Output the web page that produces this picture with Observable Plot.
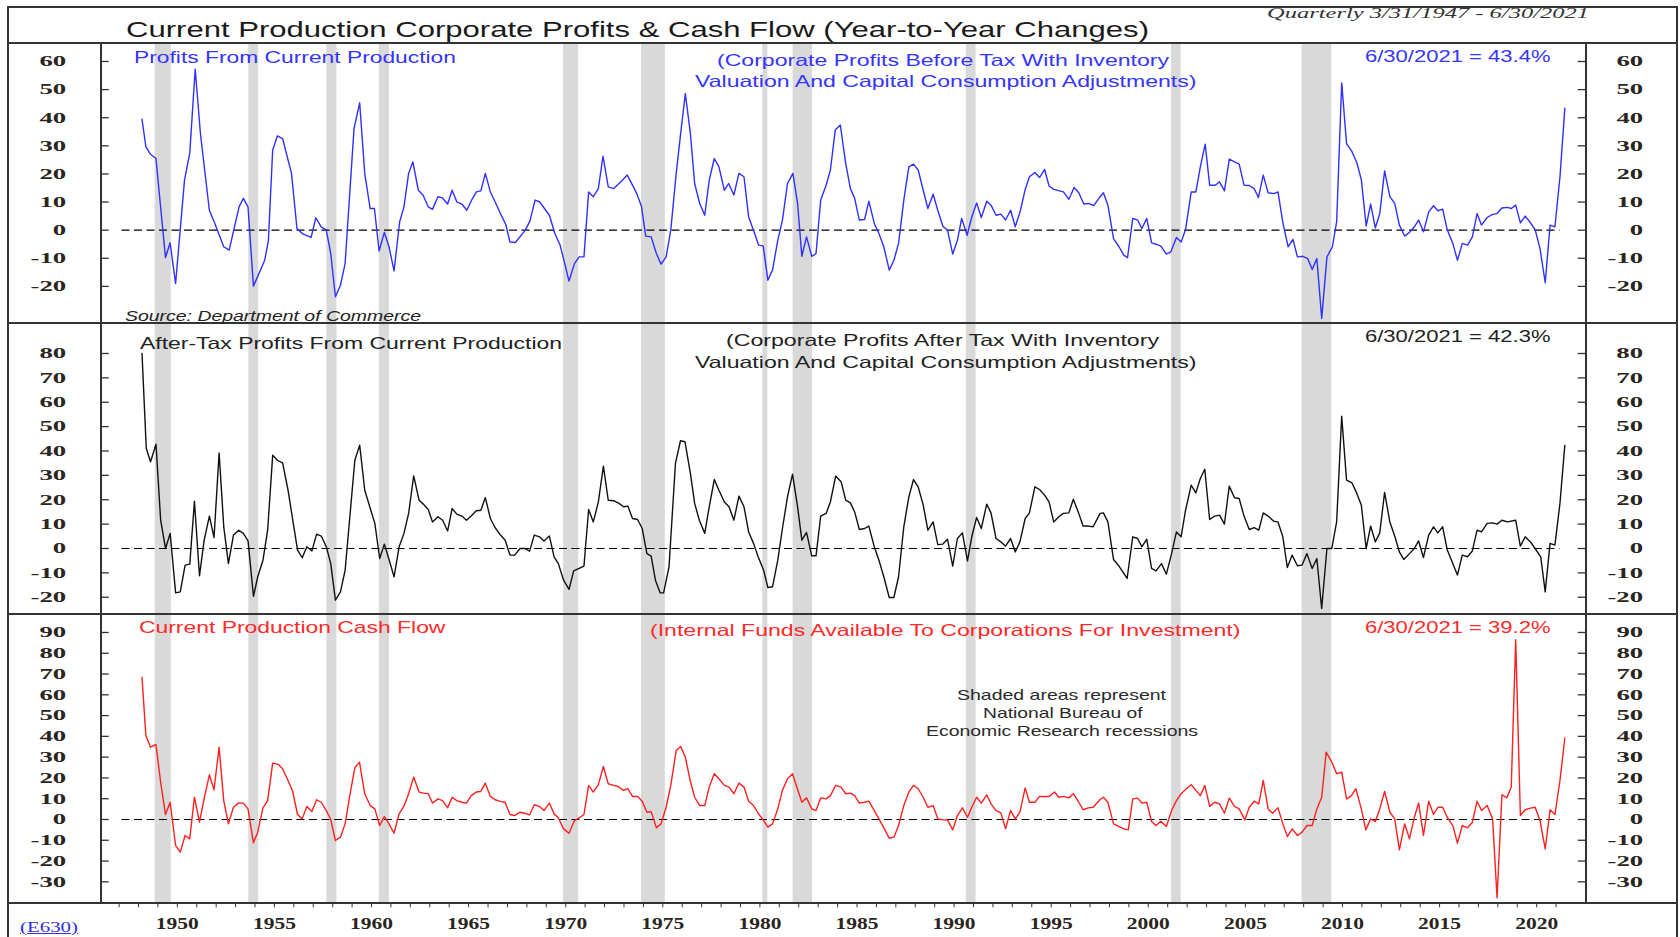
<!DOCTYPE html>
<html><head><meta charset="utf-8">
<script src="https://cdn.jsdelivr.net/npm/d3@7"></script>
<script src="https://cdn.jsdelivr.net/npm/@observablehq/plot@0.6"></script>
<style>
html,body{margin:0;padding:0;background:#fff;width:1680px;height:937px;overflow:hidden;}
#root{position:relative;width:1680px;height:937px;}
.lbl{position:absolute;white-space:nowrap;transform-origin:0 0;line-height:1;}
.ln{position:absolute;background:#333;z-index:5;}
svg{position:absolute;left:0;}
</style></head><body><div id="root"></div>
<script>
// ---------------- DATA ----------------
const preTaxYears = [1948.18,1948.38,1948.62,1948.90,1949.39,1949.63,1949.91,1950.37,1950.64,1950.92,1951.19,1951.65,1951.93,1952.39,1952.67,1953.18,1953.40,1953.64,1953.92,1954.50,1954.69,1954.91,1955.15,1955.42,1955.88,1956.16,1956.43,1956.89,1957.13,1957.41,1957.67,1957.90,1958.14,1958.40,1958.64,1959.10,1959.39,1959.65,1959.93,1960.15,1960.39,1960.66,1960.90,1961.16,1961.45,1961.67,1961.91,1962.13,1962.41,1962.65,1962.92,1963.14,1963.42,1963.64,1963.92,1964.15,1964.39,1964.65,1964.91,1965.17,1965.40,1965.63,1965.86,1966.12,1966.36,1966.64,1966.91,1967.13,1967.41,1967.92,1968.16,1968.42,1968.65,1969.16,1969.44,1969.71,1969.95,1970.17,1970.45,1970.69,1970.94,1971.18,1971.42,1971.68,1971.92,1972.19,1972.47,1972.84,1973.17,1973.44,1973.66,1973.90,1974.12,1974.40,1974.67,1974.91,1975.17,1975.41,1975.69,1975.91,1976.16,1976.42,1976.64,1976.90,1977.16,1977.39,1977.65,1977.89,1978.17,1978.39,1978.66,1978.92,1979.18,1979.42,1979.67,1979.93,1980.17,1980.41,1980.65,1980.92,1981.16,1981.42,1981.70,1981.94,1982.16,1982.40,1982.67,1982.89,1983.13,1983.41,1983.63,1983.88,1984.14,1984.42,1984.66,1984.88,1985.12,1985.39,1985.61,1985.89,1986.13,1986.38,1986.66,1986.90,1987.14,1987.41,1987.67,1987.91,1988.15,1988.41,1988.65,1988.92,1989.16,1989.42,1989.66,1989.93,1990.17,1990.39,1990.67,1990.91,1991.16,1991.40,1991.68,1991.90,1992.16,1992.41,1992.65,1992.91,1993.15,1993.42,1993.66,1993.88,1994.16,1994.40,1994.66,1994.89,1995.13,1995.63,1995.91,1996.18,1996.42,1996.68,1996.92,1997.19,1997.52,1997.69,1997.92,1998.21,1998.49,1998.74,1998.93,1999.20,1999.45,1999.67,1999.92,2000.17,2000.40,2000.65,2000.93,2001.16,2001.45,2001.69,2001.92,2002.21,2002.45,2002.68,2002.93,2003.16,2003.45,2003.67,2003.92,2004.17,2004.44,2004.68,2004.93,2005.20,2005.45,2005.67,2005.92,2006.17,2006.46,2006.68,2006.93,2007.20,2007.45,2007.68,2007.96,2008.21,2008.44,2008.68,2008.93,2009.20,2009.48,2009.70,2009.96,2010.21,2010.49,2010.74,2010.97,2011.22,2011.45,2011.69,2011.92,2012.17,2012.44,2012.69,2012.93,2013.20,2013.45,2013.70,2013.92,2014.17,2014.44,2014.69,2014.91,2015.16,2015.39,2015.68,2015.92,2016.17,2016.44,2016.69,2016.93,2017.16,2017.45,2017.73,2017.96,2018.21,2018.50,2018.69,2018.92,2019.16,2019.41,2019.64,2019.92,2020.17,2020.44,2020.69,2020.94,2021.20,2021.45];
const preTaxValues = [39.5,29.7,27.0,25.5,-9.7,-4.5,-19.0,17.8,27.3,57.3,34.4,7.1,2.4,-5.9,-7.1,8.3,11.3,8.3,-19.9,-10.7,-3.6,28.5,33.5,32.6,20.2,0.6,-1.2,-2.6,4.4,1.2,0,-8.3,-23.7,-19.6,-11.9,36.2,45.3,20.2,7.7,7.7,-7.4,-0.8,-5.9,-14.5,3.0,8.3,20.2,24.3,14.2,12.5,8.3,7.4,11.9,11.5,9.3,14.2,10.1,9.3,7.1,10.9,13.6,14.0,20.2,13.6,10.1,5.9,2.1,-4.2,-4.4,0,3.3,10.7,10.1,5.3,-1.2,-5.3,-11.9,-18.1,-11.9,-9.5,-9.5,13.6,11.9,14.8,26.3,15.4,14.8,17.2,19.6,16.0,13.0,8.5,-2.1,-2.4,-8.3,-12.1,-9.5,0,20.2,33.8,48.6,34.4,16.6,9.5,5.3,17.8,25.5,22.5,14.2,16.6,12.5,20.2,19.0,4.7,0,-5.3,-5.6,-17.8,-14.2,-3.6,3.6,16.6,20.2,9.5,-9.3,-2.4,-9.3,-8.3,10.7,16.0,21.4,35.6,37.4,23.7,14.8,11.3,3.6,3.8,10.3,2.4,-1.2,-5.9,-14.2,-10.7,-4.7,10.7,22.5,23.5,21.4,14.2,7.7,12.8,7.1,1.4,0,-8.5,-3.6,4.2,-1.8,4.7,9.7,4.5,10.3,8.9,5.3,5.7,3.6,7.1,1.2,7.1,14.5,19.0,20.5,18.7,21.6,15.7,14.5,13.6,11.0,15.2,13.3,9.3,9.5,8.7,11.9,13.3,8.9,-3.0,-5.9,-8.9,-9.8,4.2,3.6,0.6,4.2,-4.5,-5.0,-5.7,-8.5,-7.7,-2.6,-4.2,0.2,13.6,13.6,22.5,30.6,16.0,16.0,17.2,14.0,25.3,24.3,23.5,16.0,15.9,14.8,11.6,19.6,13.3,13.0,13.6,2.6,-5.9,-3.3,-9.5,-9.3,-10.1,-14.0,-10.1,-31.4,-9.5,-5.9,3.0,52.4,30.8,27.9,24.0,18.0,1.5,9.3,0.8,5.9,21.1,11.9,9.5,1.8,-2.1,-0.8,1.2,3.6,-0.6,6.5,8.7,6.9,7.5,0.2,-4.7,-10.7,-4.7,-5.3,-2.4,5.9,1.8,4.5,5.6,5.9,7.9,8.1,7.7,8.9,2.6,5.0,3.0,0.2,-6.5,-18.7,1.8,1.2,19.0,43.4];

const afterTaxYears = [1948.18,1948.40,1948.62,1948.90,1949.14,1949.39,1949.63,1949.91,1950.15,1950.40,1950.64,1950.88,1951.14,1951.38,1951.65,1951.89,1952.15,1952.39,1952.63,1952.89,1953.16,1953.40,1953.64,1953.92,1954.14,1954.41,1954.65,1954.91,1955.15,1955.42,1955.70,1955.97,1956.19,1956.43,1956.67,1956.93,1957.17,1957.41,1957.67,1957.90,1958.14,1958.40,1958.64,1959.14,1959.39,1959.65,1960.17,1960.42,1960.66,1960.90,1961.16,1961.42,1961.67,1961.91,1962.17,1962.45,1962.68,1962.92,1963.14,1963.42,1963.66,1963.92,1964.15,1964.39,1964.65,1964.89,1965.13,1965.39,1965.63,1965.86,1966.12,1966.36,1966.64,1966.88,1967.13,1967.37,1967.65,1967.89,1968.14,1968.38,1968.65,1968.88,1969.16,1969.40,1969.62,1969.89,1970.17,1970.41,1970.69,1970.94,1971.18,1971.42,1971.68,1971.94,1972.19,1972.47,1972.74,1972.98,1973.20,1973.44,1973.70,1973.94,1974.18,1974.40,1974.62,1974.86,1975.04,1975.32,1975.65,1975.91,1976.14,1976.42,1976.64,1976.88,1977.16,1977.39,1977.65,1977.89,1978.17,1978.41,1978.66,1978.92,1979.18,1979.42,1979.67,1979.91,1980.19,1980.41,1980.65,1980.92,1981.16,1981.42,1981.68,1981.94,1982.16,1982.40,1982.67,1982.89,1983.13,1983.41,1983.63,1983.90,1984.18,1984.42,1984.66,1984.88,1985.12,1985.39,1985.61,1985.89,1986.13,1986.38,1986.66,1986.90,1987.14,1987.41,1987.67,1987.91,1988.15,1988.41,1988.65,1988.92,1989.16,1989.42,1989.66,1989.93,1990.17,1990.43,1990.69,1990.91,1991.16,1991.40,1991.68,1991.90,1992.16,1992.41,1992.65,1992.91,1993.15,1993.39,1993.66,1993.88,1994.16,1994.40,1994.66,1994.89,1995.13,1995.39,1995.63,1995.91,1996.14,1996.42,1996.64,1996.92,1997.16,1997.52,1997.69,1997.92,1998.21,1998.49,1998.91,1999.20,1999.45,1999.67,1999.92,2000.17,2000.40,2000.68,2000.93,2001.20,2001.45,2001.69,2001.92,2002.21,2002.45,2002.68,2002.91,2003.16,2003.41,2003.67,2003.92,2004.17,2004.44,2004.68,2004.93,2005.20,2005.45,2005.69,2005.92,2006.17,2006.46,2006.68,2006.93,2007.16,2007.41,2007.68,2007.92,2008.17,2008.44,2008.68,2008.93,2009.20,2009.45,2009.70,2009.96,2010.21,2010.49,2010.74,2010.97,2011.22,2011.45,2011.69,2011.92,2012.17,2012.44,2012.69,2012.93,2013.16,2013.45,2013.70,2013.92,2014.17,2014.44,2014.69,2014.91,2015.16,2015.39,2015.68,2015.92,2016.17,2016.44,2016.69,2016.93,2017.16,2017.45,2017.73,2017.96,2018.21,2018.50,2018.92,2019.16,2019.41,2019.68,2019.92,2020.21,2020.44,2020.69,2020.94,2021.20,2021.45];
const afterTaxValues = [80.0,41.0,35.6,42.8,11.6,0,6.2,-18.2,-17.8,-6.8,-6.4,19.4,-11.2,3.4,13.3,4.5,39.2,8.9,-6.2,5.5,7.5,6.2,3.1,-19.6,-11.6,-4.8,7.5,38.3,36.2,35.1,23.9,10.3,-0.7,-3.8,0.7,-1.0,5.9,5.1,0.7,-6.2,-21.2,-17.8,-8.9,36.2,42.4,23.9,10.3,-4.1,1.8,-4.5,-11.6,0.7,6.2,14.4,29.8,19.8,18.1,16.0,10.9,13.0,11.6,7.2,16.4,14.1,13.3,11.6,13.3,15.5,15.7,20.9,12.3,8.6,5.5,3.4,-2.7,-2.7,0,0,-1.1,5.5,4.8,3.1,5.1,-3.4,-6.2,-13.0,-16.8,-9.2,-8.2,-7.2,16.0,10.9,19.1,33.8,19.8,19.6,18.5,17.1,17.4,12.3,11.9,8.2,-2.1,-3.1,-13.0,-18.2,-18.2,-7.5,34.9,44.2,43.8,30.8,18.5,11.6,6.2,17.1,28.3,23.9,19.1,17.1,11.6,21.5,17.1,6.8,2.1,-3.4,-8.9,-16.0,-15.7,-4.8,8.2,21.2,30.5,17.1,3.4,6.6,-3.0,-3.0,13.3,14.4,19.1,29.7,27.4,19.8,18.7,15.0,7.8,8.2,9.2,0.7,-4.8,-11.6,-20.1,-20.1,-11.6,8.9,21.2,28.3,25.3,17.8,7.5,10.9,1.6,1.8,3.8,-7.2,4.1,6.4,-5.1,4.8,12.7,8.2,18.2,14.6,4.1,2.7,1.0,4.1,-1.4,2.7,12.3,14.6,25.3,24.2,21.9,19.1,10.9,13.0,14.4,14.6,20.2,14.4,9.2,9.2,8.9,14.4,14.6,10.9,-4.5,-7.2,-12.3,4.8,4.1,0.7,3.8,-8.2,-9.2,-6.2,-10.6,-2.1,6.8,4.8,15.7,26.0,22.8,28.7,32.5,11.9,13.3,13.7,10.0,25.6,20.8,20.5,13.3,7.8,8.6,7.5,14.6,13.3,11.2,10.9,4.8,-7.8,-2.7,-7.1,-6.8,-2.1,-8.2,-4.1,-24.6,0,0,10.9,54.3,28.0,26.9,22.6,17.8,0,9.2,2.7,6.4,23.0,10.9,5.1,-1.4,-4.5,-2.1,0,3.1,-3.7,5.5,8.9,6.4,8.9,-0.4,-6.2,-10.9,-2.7,-3.4,-1.0,7.5,6.8,10.3,10.5,10.0,11.6,10.9,11.6,1.0,4.8,2.7,0,-3.4,-17.8,2.1,1.4,18.5,42.3];

const cashFlowYears = [1948.18,1948.38,1948.62,1948.90,1949.14,1949.39,1949.63,1949.91,1950.15,1950.40,1950.64,1950.88,1951.14,1951.38,1951.65,1951.89,1952.15,1952.39,1952.63,1952.89,1953.16,1953.40,1953.64,1953.92,1954.14,1954.41,1954.65,1954.91,1955.20,1955.42,1955.70,1955.94,1956.19,1956.43,1956.67,1956.93,1957.17,1957.41,1957.67,1957.90,1958.14,1958.40,1958.64,1958.88,1959.14,1959.38,1959.65,1959.93,1960.17,1960.42,1960.66,1960.90,1961.16,1961.42,1961.67,1961.91,1962.17,1962.45,1962.68,1962.92,1963.14,1963.42,1963.66,1963.92,1964.15,1964.39,1964.65,1964.89,1965.13,1965.39,1965.63,1965.86,1966.12,1966.36,1966.64,1966.88,1967.13,1967.37,1967.65,1967.89,1968.14,1968.38,1968.65,1968.88,1969.16,1969.40,1969.62,1969.89,1970.17,1970.45,1970.69,1970.94,1971.18,1971.42,1971.68,1971.94,1972.19,1972.47,1972.71,1972.96,1973.20,1973.44,1973.70,1973.94,1974.18,1974.40,1974.67,1974.91,1975.17,1975.41,1975.69,1975.92,1976.16,1976.42,1976.64,1976.90,1977.16,1977.39,1977.65,1977.89,1978.17,1978.41,1978.66,1978.92,1979.18,1979.42,1979.67,1979.91,1980.19,1980.41,1980.65,1980.92,1981.16,1981.42,1981.68,1981.90,1982.16,1982.40,1982.67,1982.89,1983.13,1983.41,1983.63,1983.90,1984.18,1984.42,1984.66,1984.88,1985.12,1985.39,1985.61,1985.89,1986.13,1986.38,1986.66,1986.90,1987.14,1987.41,1987.67,1987.91,1988.15,1988.41,1988.65,1988.92,1989.16,1989.42,1989.66,1989.93,1990.17,1990.43,1990.69,1990.91,1991.16,1991.40,1991.68,1991.90,1992.16,1992.41,1992.65,1992.91,1993.15,1993.39,1993.66,1993.88,1994.16,1994.40,1994.89,1995.17,1995.39,1995.63,1995.91,1996.14,1996.42,1996.64,1996.92,1997.16,1997.52,1997.69,1997.92,1998.21,1998.49,1998.74,1998.97,1999.20,1999.45,1999.67,1999.92,2000.17,2000.40,2000.65,2000.93,2001.20,2001.45,2001.69,2001.96,2002.21,2002.45,2002.68,2002.91,2003.16,2003.41,2003.67,2003.92,2004.17,2004.44,2004.68,2004.97,2005.20,2005.45,2005.69,2005.92,2006.17,2006.40,2006.68,2006.93,2007.16,2007.41,2007.68,2007.92,2008.17,2008.44,2008.68,2008.93,2009.16,2009.45,2009.70,2009.96,2010.21,2010.46,2010.69,2010.97,2011.20,2011.45,2011.69,2011.92,2012.17,2012.44,2012.69,2012.93,2013.20,2013.45,2013.70,2013.92,2014.17,2014.44,2014.69,2014.91,2015.16,2015.39,2015.68,2015.92,2016.17,2016.44,2016.69,2016.93,2017.16,2017.45,2017.73,2017.96,2018.21,2018.46,2018.69,2018.92,2019.16,2019.41,2019.68,2019.92,2020.17,2020.44,2020.69,2020.94,2021.20,2021.45];
const cashFlowValues = [68.5,40.4,34.8,36.1,18.0,2.4,8.3,-12.5,-15.7,-7.7,-9.3,10.7,-1.3,9.9,21.5,14.3,34.8,9.1,-2.1,5.9,8.0,7.9,5.1,-11.2,-6.1,5.6,9.1,27.1,26.5,24.4,18.8,13.6,2.4,0.3,6.3,3.8,9.5,8.3,4.3,0,-10.1,-8.5,-2.1,11.5,24.9,27.6,12.4,6.7,5.1,-2.9,1.4,-2.1,-6.6,2.7,6.4,12.4,20.4,13.2,12.7,12.4,7.9,9.9,9.1,5.6,10.7,9.1,8.3,7.9,11.5,13.2,13.5,17.5,11.1,9.5,8.7,8.3,2.4,1.9,3.5,3.0,2.2,7.1,6.3,4.3,7.9,2.7,0.8,-4.5,-6.6,-0.5,0.8,2.4,16.4,13.2,16.8,25.5,17.2,16.4,15.9,14.0,14.8,11.1,11.1,8.8,3.5,3.8,-4.0,-2.1,5.9,16.4,33.2,35.1,30.0,18.4,10.7,6.7,6.7,15.6,22.0,19.6,16.4,15.6,12.4,17.5,15.6,8.8,6.7,3.0,-0.5,-3.7,-2.1,5.1,14.0,19.6,22.0,15.6,8.3,10.4,5.1,4.3,10.4,9.9,11.5,16.4,15.6,12.4,12.7,11.5,7.9,8.3,8.8,4.3,0.3,-4.0,-9.0,-8.5,-2.9,6.7,13.2,16.4,14.8,10.7,5.9,6.7,0.3,-0.2,-0.2,-5.0,1.9,5.6,1.1,5.9,10.7,7.9,11.9,7.5,4.3,3.2,-4.5,4.3,0.3,3.5,15.2,8.3,8.3,11.1,11.1,13.2,10.7,11.1,10.4,12.4,8.3,4.7,5.6,5.9,9.6,10.7,8.3,-2.1,-3.4,-4.5,-5.0,9.9,10.3,7.9,8.3,-1.0,-2.9,-0.8,-3.4,4.3,9.1,12.4,14.8,16.7,14.0,11.5,16.4,6.3,8.3,7.5,3.0,10.3,6.3,5.1,-0.2,5.9,8.8,7.5,18.8,5.1,3.0,5.6,-2.1,-8.2,-4.5,-7.7,-6.1,-2.9,-2.9,5.1,10.7,32.4,27.6,22.0,22.8,9.9,11.5,14.8,5.1,-5.0,0.3,-1.0,5.1,13.5,3.5,0.3,-14.6,-2.1,-9.3,1.1,7.9,-7.7,8.8,2.4,5.9,5.9,1.1,-2.9,-11.4,-2.9,-4.0,-1.3,8.8,4.3,6.7,0.3,-37.7,11.9,10.4,15.6,86.5,1.9,4.7,5.5,5.9,-0.5,-14.1,4.7,2.4,18.8,39.2];

// NBER recessions as drawn (decimal years)
const recessionStarts = [1948.86,1953.68,1957.70,1960.40,1969.89,1973.90,1980.15,1981.71,1990.63,2001.20,2007.92];
const recessionEnds   = [1949.69,1954.19,1958.22,1960.92,1970.67,1975.13,1980.41,1982.71,1991.13,2001.69,2009.45];

// Tick values
const preTaxTicks   = [-20,-10,0,10,20,30,40,50,60];
const afterTaxTicks = [-20,-10,0,10,20,30,40,50,60,70,80];
const cashFlowTicks = [-30,-20,-10,0,10,20,30,40,50,60,70,80,90];
const yearTicks = d3.range(1947, 2022);
const zeroLineSpan = [1947.15, 2021.2];

// ---------------- LAYOUT ----------------
const W = 1680, H = 937;
const plotLeft = 100.7, plotRight = 1585.7;
const xDomain = [1946.08, 2022.55];
const root = document.getElementById("root");
const recessions = recessionStarts.map((s, i) => ({start: s, end: recessionEnds[i]}));

const panels = [
  {top: 43.3, bottom: 323.3, domain: [-33.2, 66.4], ticks: preTaxTicks, years: preTaxYears, values: preTaxValues, color: "#3030ff"},
  {top: 323.3, bottom: 614, domain: [-26.95, 92.3], ticks: afterTaxTicks, years: afterTaxYears, values: afterTaxValues, color: "#111"},
  {top: 614, bottom: 903.3, domain: [-40.57, 98.65], ticks: cashFlowTicks, years: cashFlowYears, values: cashFlowValues, color: "#ff2020"}
];

const serif = "'Liberation Serif','Times New Roman',serif";
const sans = "'Liberation Sans',Arial,sans-serif";
const plotW = plotRight - plotLeft;
const fmt = d => String(d);

panels.forEach((p, i) => {
  const last = i === panels.length - 1;
  const h = (last ? H : p.bottom) - p.top;
  const data = p.years.map((y, k) => ({year: y, value: p.values[k]}));
  const marks = [
    Plot.rect(recessions, {x1: "start", x2: "end", fill: "#d9d9d9"}),
    Plot.ruleY([{y: 0, a: zeroLineSpan[0], b: zeroLineSpan[1]}], {y: "y", x1: "a", x2: "b", stroke: "#000", strokeWidth: 1.2, strokeDasharray: "8,4.5"}),
    Plot.line(data, {x: "year", y: "value", stroke: p.color, strokeWidth: 1.4}),
    Plot.tickY(p.ticks, {y: d => d, insetRight: plotW - 8, stroke: "#333", strokeWidth: 1.3}),
    Plot.tickY(p.ticks, {y: d => d, insetLeft: plotW - 8, stroke: "#333", strokeWidth: 1.3}),
    Plot.axisY(p.ticks, {anchor: "left", tickSize: 0, tickPadding: 35, tickFormat: fmt, fontSize: 15, fontWeight: "bold", fontFamily: serif, fill: "#2a2520"}),
    Plot.axisY(p.ticks, {anchor: "right", tickSize: 0, tickPadding: 57, tickFormat: fmt, textAnchor: "end", fontSize: 15, fontWeight: "bold", fontFamily: serif, fill: "#2a2520"})
  ];
  if (last) {
    marks.push(Plot.axisX(yearTicks, {anchor: "bottom", tickSize: 4, tickPadding: 10, stroke: "#333",
      tickFormat: d => d % 5 === 0 ? String(d) : "", fontSize: 16, fontWeight: "bold", fontFamily: serif, fill: "#2a2520"}));
  }
  const svg = Plot.plot({
    width: W, height: h,
    marginLeft: plotLeft, marginRight: W - plotRight,
    marginTop: 0, marginBottom: last ? H - p.bottom : 0,
    x: {domain: xDomain, axis: last ? undefined : null},
    y: {domain: p.domain},
    style: {background: "transparent", overflow: "visible"},
    marks
  });
  svg.style.top = p.top + "px";
  root.appendChild(svg);
  // stretch tick labels horizontally like the reference
  const ylab = [...svg.querySelectorAll('g[aria-label="y-axis tick label"] text')];
  const ref = ylab.find(t => t.textContent === "60") || ylab[0];
  const fy = 26.8 / ref.getComputedTextLength();
  ylab.forEach(t => { const w = t.getComputedTextLength(); t.setAttribute("textLength", w * fy); t.setAttribute("lengthAdjust", "spacingAndGlyphs"); });
  const xlab = [...svg.querySelectorAll('g[aria-label="x-axis tick label"] text')].filter(t => t.textContent);
  if (xlab.length) {
    const fx = 43 / xlab[0].getComputedTextLength();
    xlab.forEach(t => { const w = t.getComputedTextLength(); t.setAttribute("textLength", w * fx); t.setAttribute("lengthAdjust", "spacingAndGlyphs"); });
  }
});

// frame lines
function hline(y, x1, x2) { const d = document.createElement("div"); d.className = "ln"; Object.assign(d.style, {left: x1 + "px", top: (y - 1) + "px", width: (x2 - x1) + "px", height: "2px"}); root.appendChild(d); }
function vline(x, y1, y2) { const d = document.createElement("div"); d.className = "ln"; Object.assign(d.style, {left: (x - 1) + "px", top: y1 + "px", width: "2px", height: (y2 - y1) + "px"}); root.appendChild(d); }
hline(7, 7, 1678); hline(43.3, 7, 1678); hline(323.3, 7, 1678); hline(614, 7, 1678); hline(903.3, 7, 1678);
vline(8, 6, 937); vline(1677, 6, 937); vline(plotLeft, 43.3, 903.3); vline(plotRight, 43.3, 903.3);

// text labels
function label(text, o) {
  const el = document.createElement("div");
  el.className = "lbl";
  el.textContent = text;
  Object.assign(el.style, {
    fontFamily: o.font || sans, fontSize: o.size + "px", color: o.color || "#222",
    fontStyle: o.italic ? "italic" : "normal", fontWeight: o.bold ? "bold" : "normal",
    left: o.left + "px", top: (o.cy - o.size * 0.5) + "px", zIndex: 6,
    textDecoration: o.underline ? "underline" : "none"
  });
  root.appendChild(el);
  const w = el.getBoundingClientRect().width;
  el.style.transform = `scaleX(${o.width / w})`;
}
const blue = "#3535ff", red = "#ff2a2a", dark = "#222";
label("Current Production Corporate Profits & Cash Flow (Year-to-Year Changes)", {left: 126, width: 1023, cy: 29.5, size: 22, color: "#1a1a1a"});
label("Quarterly 3/31/1947 - 6/30/2021", {left: 1266.5, width: 322, cy: 13.5, size: 14, italic: true, font: serif, color: "#333"});

label("Profits From Current Production", {left: 134, width: 322, cy: 57.2, size: 16.5, color: blue});
label("(Corporate Profits Before Tax With Inventory", {left: 717, width: 452, cy: 60.5, size: 16.5, color: blue});
label("Valuation And Capital Consumption Adjustments)", {left: 695.3, width: 501.5, cy: 81.5, size: 16.5, color: blue});
label("6/30/2021 = 43.4%", {left: 1364.5, width: 185.5, cy: 56, size: 16.5, color: blue});
label("Source: Department of Commerce", {left: 125, width: 296, cy: 315, size: 15, italic: true, color: dark});

label("After-Tax Profits From Current Production", {left: 140.4, width: 422, cy: 343, size: 16.5, color: dark});
label("(Corporate Profits After Tax With Inventory", {left: 726.4, width: 433, cy: 340.7, size: 16.5, color: dark});
label("Valuation And Capital Consumption Adjustments)", {left: 695.3, width: 501.5, cy: 362.2, size: 16.5, color: dark});
label("6/30/2021 = 42.3%", {left: 1364.5, width: 185.5, cy: 336.5, size: 16.5, color: dark});

label("Current Production Cash Flow", {left: 139.3, width: 306.4, cy: 627, size: 16.5, color: red});
label("(Internal Funds Available To Corporations For Investment)", {left: 650.3, width: 590.4, cy: 630.2, size: 16.5, color: red});
label("6/30/2021 = 39.2%", {left: 1364.5, width: 185.5, cy: 627, size: 16.5, color: red});

label("Shaded areas represent", {left: 956.8, width: 209, cy: 694.5, size: 15, color: "#2a2a2a"});
label("National Bureau of", {left: 982.5, width: 159.6, cy: 712.5, size: 15, color: "#2a2a2a"});
label("Economic Research recessions", {left: 925.7, width: 272, cy: 730.7, size: 15, color: "#2a2a2a"});

label("(E630)", {left: 19.6, width: 58, cy: 928, size: 14, font: serif, color: "#3030e0", underline: true});
</script></body></html>
